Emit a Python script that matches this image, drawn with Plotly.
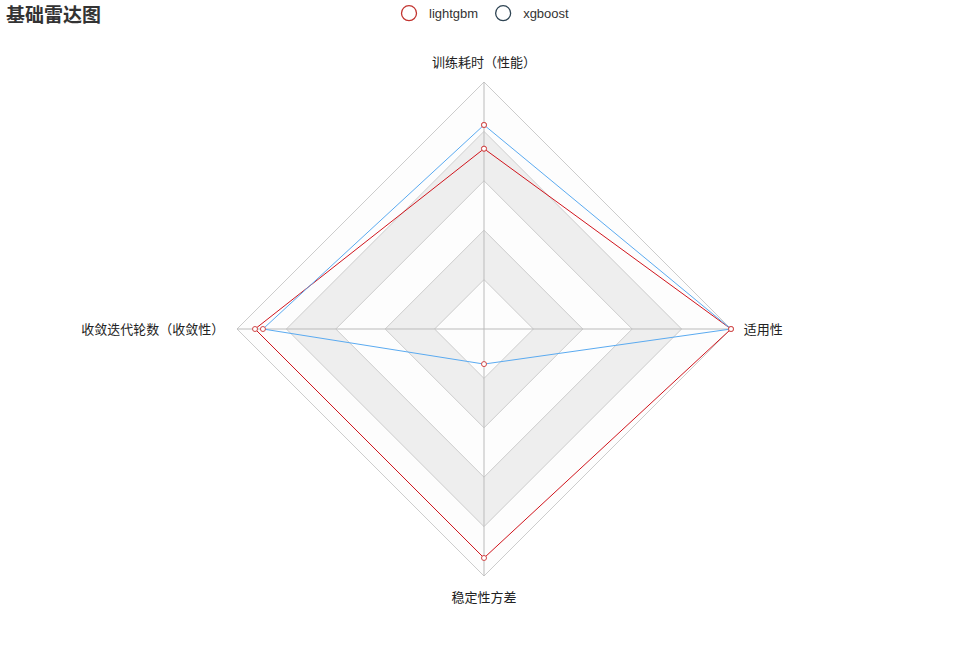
import plotly.graph_objects as go

# radar indicators, counter-clockwise from the top (same order as echarts)
indicators = ['训练耗时（性能）', '收敛迭代轮数（收敛性）', '稳定性方差', '适用性']
lightgbm = [0.73, 0.927, 0.927, 1.0]
xgboost = [0.826, 0.895, 0.142, 1.0]
split_levels = [1.0, 0.8, 0.6, 0.4, 0.2]
split_colors = ['#fdfdfd', '#eeeeee', '#fdfdfd', '#eeeeee', '#fdfdfd']

font_family = 'Liberation Sans, Arial, Noto Sans CJK SC, sans-serif'
cjk_family = 'Noto Sans CJK SC, sans-serif'

W, H = 968, 660
cx, cy = 484, 329          # radar centre in pixels
radius = 247               # radius of the outer split ring
r_max = 1.05               # extra room so the labels sit off the ring
half = radius * r_max


def closed(values):
    return list(values) + [values[0]]


fig = go.Figure()

# split areas (alternating bands), outer first
for level, color in zip(split_levels, split_colors):
    fig.add_trace(go.Scatterpolar(
        r=[level] * (len(indicators) + 1),
        theta=closed(indicators),
        mode='lines',
        fill='toself',
        fillcolor=color,
        line=dict(color='#cccccc', width=1),
        hoverinfo='skip',
        showlegend=False
    ))

# axis spokes
spoke_r = []
spoke_theta = []
for name in indicators:
    spoke_r += [0, 1, None]
    spoke_theta += [name, name, None]
fig.add_trace(go.Scatterpolar(
    r=spoke_r,
    theta=spoke_theta,
    mode='lines',
    line=dict(color='#bbbbbb', width=1),
    hoverinfo='skip',
    showlegend=False
))

series = [
    ('lightgbm', lightgbm, '#d0141c', '#c23531'),
    ('xgboost', xgboost, '#5aaaf0', '#2f4554'),
]
for name, values, line_color, legend_color in series:
    fig.add_trace(go.Scatterpolar(
        r=closed(values),
        theta=closed(indicators),
        mode='lines+markers',
        name=name,
        legendgroup=name,
        line=dict(color=line_color, width=1),
        marker=dict(symbol='circle', size=5, color='white',
                    line=dict(color='#d04848', width=1)),
        showlegend=False
    ))
    # legend icon only
    fig.add_trace(go.Scatterpolar(
        r=[None],
        theta=[indicators[0]],
        mode='markers',
        name=name,
        legendgroup=name,
        marker=dict(symbol='circle-open', size=15, color=legend_color,
                    line=dict(width=1.3)),
        hoverinfo='skip'
    ))

fig.update_layout(
    width=W,
    height=H,
    margin=dict(l=0, r=0, t=0, b=0, autoexpand=False),
    paper_bgcolor='white',
    plot_bgcolor='white',
    font=dict(family=font_family, color='#333333', size=13),
    title=dict(
        text='<b>基础雷达图</b>',
        x=6 / W, xanchor='left',
        y=1 - 15 / H, yanchor='middle',
        font=dict(size=19, color='#333333', family=cjk_family)
    ),
    legend=dict(
        orientation='h',
        x=482 / W, xanchor='center',
        y=1.0027, yanchor='top',
        font=dict(size=13, color='#333333'),
        itemwidth=30,
        tracegroupgap=0,
        bgcolor='rgba(0,0,0,0)'
    ),
    polar=dict(
        domain=dict(x=[(cx - half) / W, (cx + half) / W],
                    y=[(H - cy - half) / H, (H - cy + half) / H]),
        gridshape='linear',
        bgcolor='white',
        radialaxis=dict(
            range=[0, r_max],
            visible=False,
        ),
        angularaxis=dict(
            direction='counterclockwise',
            rotation=90,
            showgrid=False,
            showline=False,
            ticks='',
            tickfont=dict(size=13, color='#222222', family=cjk_family)
        )
    )
)

# drop the default 8px body margin so the chart sits at the page corner
fig.write_html('out.html', config={'displayModeBar': False},
               post_script="document.body.style.margin='0';")
